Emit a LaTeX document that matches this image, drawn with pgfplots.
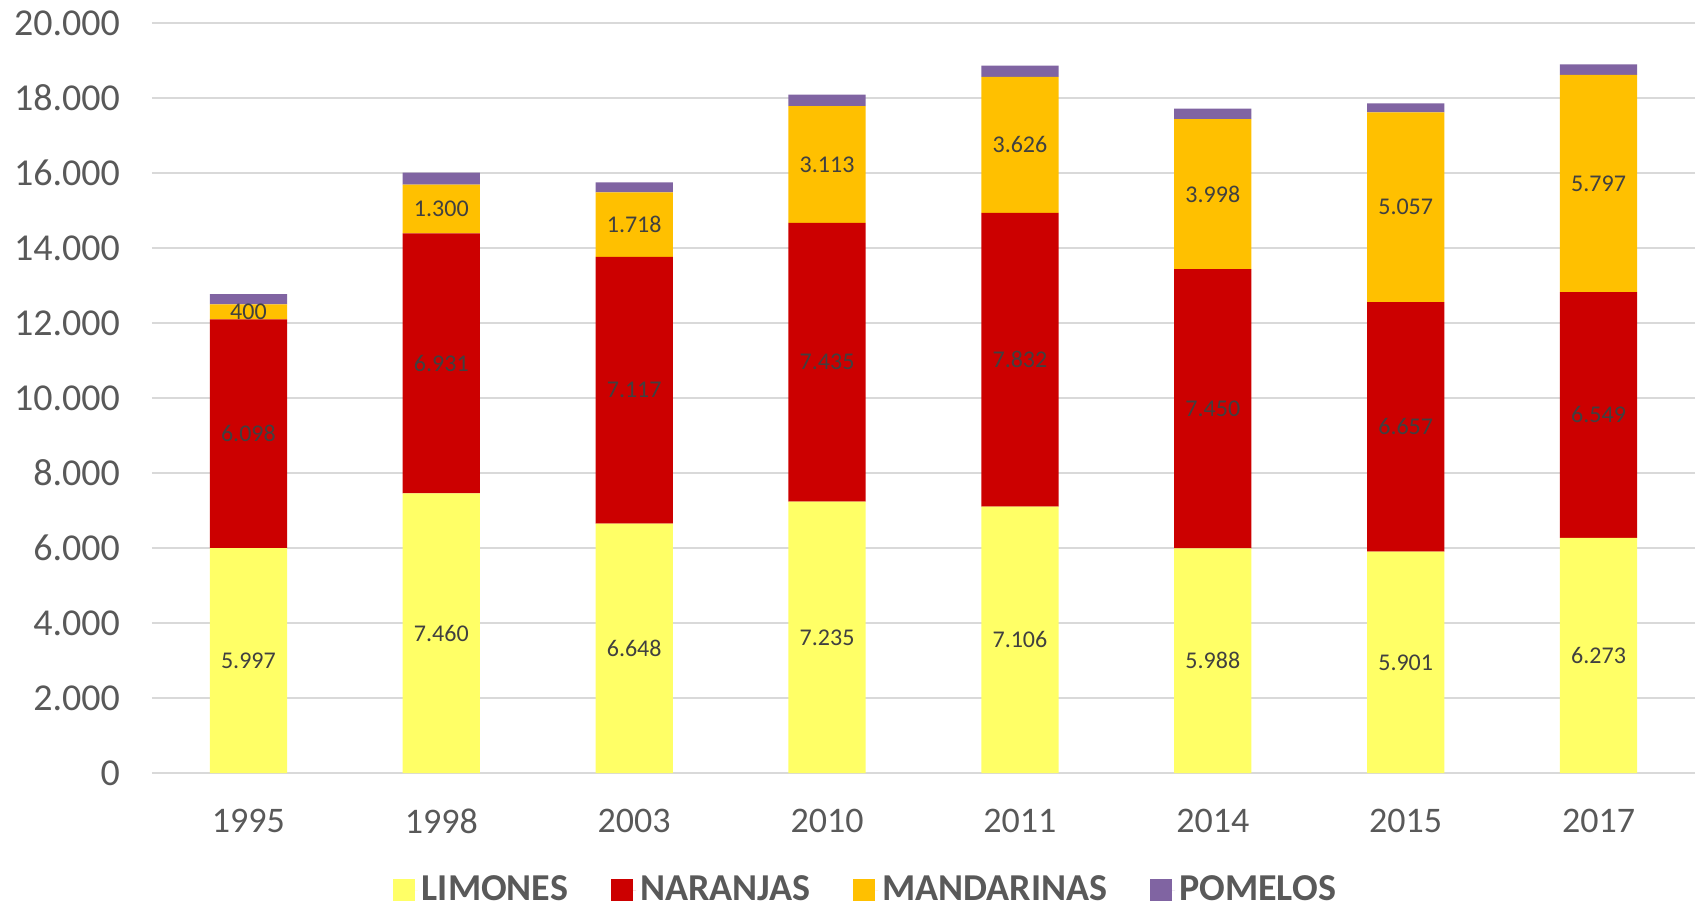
\documentclass[border=0pt]{standalone}
\usepackage{pgfplots}
\pgfplotsset{compat=1.18}
\usepackage{pgfplotstable}
\usepackage{fontspec}
\setmainfont{Carlito}
\definecolor{cL}{HTML}{FFFF66}
\definecolor{cN}{HTML}{CC0000}
\definecolor{cM}{HTML}{FFC000}
\definecolor{cP}{HTML}{8064A2}
\definecolor{gridc}{HTML}{D9D9D9}
\definecolor{tickc}{HTML}{595959}
\definecolor{labc}{HTML}{404040}
\pgfplotstableread{
x L N M P
0 5997 6098 400 275
1 7460 6931 1300 320
2 6648 7117 1718 270
3 7235 7435 3113 310
4 7106 7832 3626 300
5 5988 7450 3998 280
6 5901 6657 5057 245
7 6273 6549 5797 280
}\datatable
\pgfplotstableread{
x y lab
0 2998.5 5.997
1 3730 7.460
2 3324 6.648
3 3617.5 7.235
4 3553 7.106
5 2994 5.988
6 2950.5 5.901
7 3136.5 6.273
}\labL
\pgfplotstableread{
x y lab
0 9046 6.098
1 10925.5 6.931
2 10206.5 7.117
3 10952.5 7.435
4 11022 7.832
5 9713 7.450
6 9229.5 6.657
7 9547.5 6.549
}\labN
\pgfplotstableread{
x y lab
0 12295 400
1 15041 1.300
2 14624 1.718
3 16226.5 3.113
4 16751 3.626
5 15437 3.998
6 15086.5 5.057
7 15720.5 5.797
}\labM
\pgfplotsset{base/.style={scale only axis, width=771.5pt, height=375pt,
  xmin=-0.5, xmax=7.5, ymin=0, ymax=20000, enlargelimits=false, clip=false}}
\begin{document}
\begin{tikzpicture}
\useasboundingbox (-76pt,-67pt) rectangle (773pt,386.5pt);
\begin{axis}[base,
  ybar stacked, bar width=0.4,
  axis line style={draw=none},
  major tick length=0pt,
  ymajorgrids, grid style={gridc, line width=0.75pt},
  ytick={0,2000,...,20000},
  scaled y ticks=false,
  xtick={0,...,7},
  xticklabels={1995,1998,2003,2010,2011,2014,2015,2017},
  /pgf/number format/.cd, fixed, 1000 sep={.}, assume math mode=true, /pgfplots/.cd,
  tick label style={font=\fontsize{18}{20}\selectfont, text=tickc},
  yticklabel style={font=\fontsize{19}{21}\selectfont, xshift=-12.5pt},
  xticklabel style={yshift=-14.5pt},
  legend style={at={(0.463,-0.156)}, anchor=center, legend columns=4, draw=none,
    font=\bfseries\fontsize{19}{21}\selectfont, text=tickc,
    /tikz/every even column/.append style={column sep=19.5pt}},
  legend image code/.code={\fill[#1, draw=none] (-4pt,-5.5pt) rectangle (7pt,5.5pt); \path (7pt,0pt) -- (8.5pt,0pt);},
]
\addplot[fill=cL, draw=none] table[x=x, y=L] {\datatable};
\addplot[fill=cN, draw=none] table[x=x, y=N] {\datatable};
\addplot[fill=cM, draw=none] table[x=x, y=M] {\datatable};
\addplot[fill=cP, draw=none] table[x=x, y=P] {\datatable};
\legend{LIMONES, NARANJAS, MANDARINAS, POMELOS}
\end{axis}
\begin{axis}[base, hide axis,
  every node near coord/.append style={anchor=center, font=\fontsize{12}{14}\selectfont, text=labc}]
\addplot[only marks, mark=none, nodes near coords, point meta=explicit symbolic] table[x=x, y=y, meta=lab] {\labL};
\addplot[only marks, mark=none, nodes near coords, point meta=explicit symbolic] table[x=x, y=y, meta=lab] {\labN};
\addplot[only marks, mark=none, nodes near coords, point meta=explicit symbolic] table[x=x, y=y, meta=lab] {\labM};
\end{axis}
\end{tikzpicture}
\end{document}
